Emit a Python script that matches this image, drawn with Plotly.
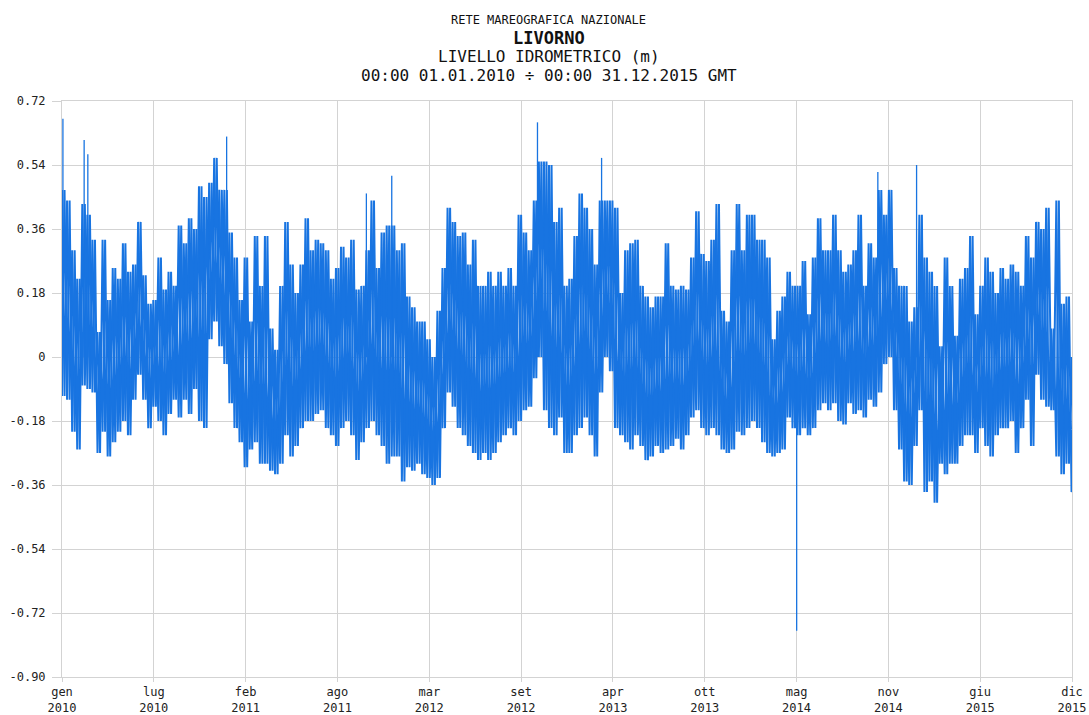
import pandas as pd
import plotly.graph_objects as go

# Livorno tide gauge, hourly sea level 2010-2015, summarised as the
# upper / lower envelope of the record every 11 days (metres).
start = "2010-01-01"
step_days = 11

upper = [
    0.47, 0.44, 0.30, 0.22, 0.43, 0.40, 0.33, 0.07, 0.33, 0.16,
    0.25, 0.22, 0.32, 0.24, 0.26, 0.38, 0.23, 0.15, 0.16, 0.28,
    0.19, 0.24, 0.20, 0.37, 0.32, 0.39, 0.36, 0.48, 0.45, 0.49,
    0.56, 0.47, 0.47, 0.35, 0.28, 0.16, 0.28, 0.10, 0.34, 0.20,
    0.34, 0.08, 0.02, 0.20, 0.38, 0.26, 0.18, 0.26, 0.39, 0.30,
    0.33, 0.32, 0.30, 0.22, 0.25, 0.31, 0.28, 0.33, 0.19, 0.20,
    0.30, 0.44, 0.25, 0.35, 0.37, 0.37, 0.30, 0.32, 0.17, 0.14,
    0.10, 0.10, 0.05, 0.00, 0.13, 0.25, 0.42, 0.38, 0.34, 0.35,
    0.26, 0.33, 0.20, 0.20, 0.24, 0.20, 0.24, 0.20, 0.25, 0.20,
    0.40, 0.35, 0.30, 0.44, 0.55, 0.55, 0.54, 0.38, 0.42, 0.20,
    0.22, 0.34, 0.46, 0.42, 0.36, 0.26, 0.44, 0.44, 0.44, 0.42,
    0.18, 0.30, 0.32, 0.33, 0.20, 0.17, 0.14, 0.17, 0.17, 0.32,
    0.20, 0.19, 0.20, 0.19, 0.28, 0.41, 0.29, 0.27, 0.33, 0.43,
    0.13, 0.10, 0.30, 0.43, 0.30, 0.40, 0.40, 0.33, 0.33, 0.28,
    0.05, 0.13, 0.17, 0.24, 0.20, 0.20, 0.27, 0.12, 0.28, 0.39,
    0.30, 0.30, 0.40, 0.30, 0.24, 0.26, 0.30, 0.40, 0.20, 0.32,
    0.28, 0.47, 0.40, 0.47, 0.25, 0.20, 0.20, 0.10, 0.14, 0.40,
    0.28, 0.24, 0.20, 0.03, 0.28, 0.20, 0.06, 0.22, 0.25, 0.34,
    0.12, 0.20, 0.28, 0.24, 0.18, 0.25, 0.22, 0.26, 0.24, 0.20,
    0.34, 0.28, 0.38, 0.36, 0.42, 0.08, 0.44, 0.15, 0.17, 0.00,
]

lower = [
    -0.11, -0.12, -0.21, -0.26, -0.08, -0.09, -0.10, -0.27, -0.21, -0.28,
    -0.24, -0.21, -0.18, -0.22, -0.12, -0.05, -0.12, -0.20, -0.14, -0.18,
    -0.22, -0.16, -0.12, -0.17, -0.12, -0.16, -0.09, -0.18, -0.20, 0.05,
    0.10, 0.03, -0.02, -0.13, -0.20, -0.24, -0.31, -0.26, -0.24, -0.30,
    -0.30, -0.32, -0.33, -0.30, -0.22, -0.28, -0.25, -0.20, -0.18, -0.18,
    -0.16, -0.15, -0.20, -0.22, -0.25, -0.20, -0.18, -0.22, -0.29, -0.24,
    -0.20, -0.18, -0.22, -0.25, -0.30, -0.28, -0.28, -0.35, -0.31, -0.32,
    -0.30, -0.33, -0.34, -0.36, -0.34, -0.20, -0.10, -0.14, -0.20, -0.22,
    -0.25, -0.27, -0.29, -0.27, -0.29, -0.27, -0.24, -0.22, -0.20, -0.22,
    -0.18, -0.15, -0.14, -0.06, 0.00, -0.15, -0.20, -0.22, -0.17, -0.27,
    -0.27, -0.22, -0.20, -0.17, -0.22, -0.28, -0.10, 0.00, -0.04, -0.20,
    -0.22, -0.24, -0.26, -0.22, -0.25, -0.29, -0.28, -0.25, -0.27, -0.26,
    -0.25, -0.23, -0.26, -0.22, -0.17, -0.15, -0.20, -0.22, -0.20, -0.22,
    -0.26, -0.27, -0.26, -0.21, -0.22, -0.20, -0.18, -0.20, -0.24, -0.27,
    -0.28, -0.27, -0.26, -0.17, -0.20, -0.22, -0.20, -0.22, -0.20, -0.15,
    -0.13, -0.15, -0.13, -0.18, -0.19, -0.13, -0.16, -0.15, -0.17, -0.12,
    -0.14, -0.10, -0.02, 0.00, -0.15, -0.26, -0.35, -0.36, -0.25, -0.15,
    -0.38, -0.35, -0.41, -0.30, -0.33, -0.30, -0.30, -0.25, -0.22, -0.22,
    -0.27, -0.20, -0.25, -0.28, -0.22, -0.20, -0.20, -0.18, -0.27, -0.20,
    -0.12, -0.25, -0.05, -0.12, -0.14, -0.15, -0.28, -0.33, -0.30, -0.38,
]

# isolated hourly extremes that stand out from the envelope
spike_dates = ["2010-01-03", "2010-02-18", "2010-02-26", "2010-12-24",
               "2011-10-23", "2011-12-17", "2012-10-28", "2013-03-16",
               "2014-05-13", "2014-11-05", "2015-01-28"]
spike_values = [0.67, 0.61, 0.57, 0.62, 0.46, 0.51, 0.66, 0.56,
                -0.77, 0.52, 0.54]

y_ticks = [-0.90, -0.72, -0.54, -0.36, -0.18, 0.0, 0.18, 0.36, 0.54, 0.72]
y_labels = ["-0.90", "-0.72", "-0.54", "-0.36", "-0.18", "0",
            "0.18", "0.36", "0.54", "0.72"]
x_labels = ["gen<br>2010", "lug<br>2010", "feb<br>2011", "ago<br>2011",
            "mar<br>2012", "set<br>2012", "apr<br>2013", "ott<br>2013",
            "mag<br>2014", "nov<br>2014", "giu<br>2015", "dic<br>2015"]

t0 = pd.Timestamp(start)
t_end = pd.Timestamp("2015-12-31")
dates = pd.date_range(start, periods=len(upper), freq=f"{step_days}D")
tick_dates = [t0 + (t_end - t0) * k / (len(x_labels) - 1) for k in range(len(x_labels))]

# Within each window the level swings between its high and its low.
# Two traces trace the swing in opposite phase, so the body of the band
# is covered while the highs and lows stay as thin needles.
half = pd.Timedelta(days=step_days / 2)
swing_a_x, swing_a_y, swing_b_x, swing_b_y = [], [], [], []
for d, hi, lo in zip(dates, upper, lower):
    swing_a_x += [d, d + half]
    swing_a_y += [hi, lo]
    swing_b_x += [d, d + half]
    swing_b_y += [lo, hi]

BLUE = "#1874e1"
GRID = "#d3d3d3"
FONT = "DejaVu Sans Mono"

fig = go.Figure()
for sx_, sy_ in ((swing_a_x, swing_a_y), (swing_b_x, swing_b_y)):
    fig.add_trace(go.Scatter(x=sx_, y=sy_, mode="lines",
                             line=dict(color=BLUE, width=2.0),
                             hoverinfo="skip"))

sx, sy = [], []
for d, v in zip(spike_dates, spike_values):
    sx += [d, d, None]
    sy += [0.0, v, None]
fig.add_trace(go.Scatter(x=sx, y=sy, mode="lines",
                         line=dict(color=BLUE, width=1.3), hoverinfo="skip"))

plot_h = 715 - 101 - 38


def title_y(px):
    return 1 + (101 - px) / plot_h


titles = [
    ("RETE MAREOGRAFICA NAZIONALE", 20, 12, False),
    ("LIVORNO", 38, 17, True),
    ("LIVELLO IDROMETRICO (m)", 56, 16, False),
    ("00:00 01.01.2010 ÷ 00:00 31.12.2015 GMT", 75, 16, False),
]
for text, py, size, bold in titles:
    fig.add_annotation(
        text=f"<b>{text}</b>" if bold else text,
        xref="paper", yref="paper", x=0.482, y=title_y(py),
        xanchor="center", yanchor="middle", showarrow=False,
        font=dict(family=FONT, size=size, color="#111"),
    )

fig.update_layout(
    width=1089, height=715,
    margin=dict(l=62, r=17, t=101, b=38),
    paper_bgcolor="white", plot_bgcolor="white",
    showlegend=False,
    font=dict(family=FONT, size=12, color="#222"),
)
fig.update_xaxes(
    range=[t0, t_end], tickmode="array", tickvals=tick_dates, ticktext=x_labels,
    automargin=False,
    showgrid=True, gridcolor=GRID, gridwidth=1,
    showline=True, linecolor=GRID, linewidth=1, mirror=True,
    ticks="outside", ticklen=4, tickcolor=GRID, zeroline=False,
    tickfont=dict(family=FONT, size=12, color="#222"),
)
fig.update_yaxes(
    range=[-0.90, 0.72], tickmode="array", tickvals=y_ticks, ticktext=y_labels,
    automargin=False, ticklabelstandoff=4,
    showgrid=True, gridcolor=GRID, gridwidth=1,
    showline=True, linecolor=GRID, linewidth=1, mirror=True,
    ticks="outside", ticklen=9, tickcolor=GRID, zeroline=False,
    tickfont=dict(family=FONT, size=12, color="#222"),
)

fig.write_html("out.html")
